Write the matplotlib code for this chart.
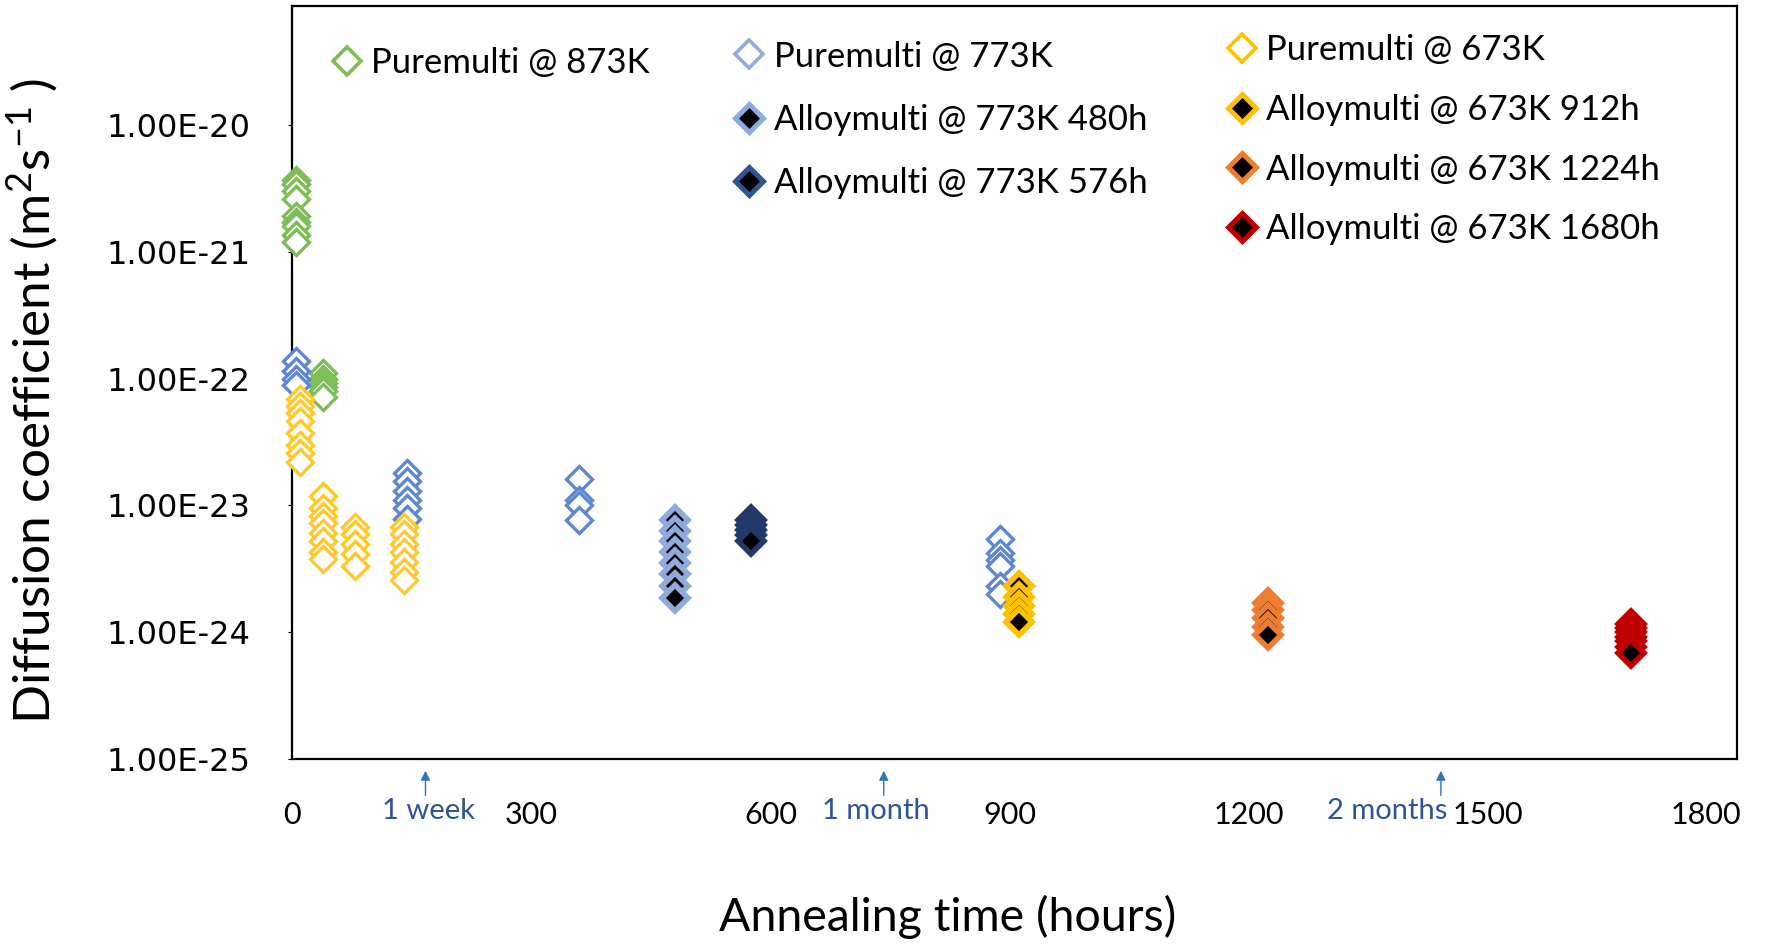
import matplotlib
matplotlib.use("Agg")
import matplotlib.pyplot as plt
import matplotlib.transforms as mtransforms
from matplotlib.lines import Line2D

# ---------------- data ----------------
t_pure873 = [4] * 9 + [38] * 6
D_pure873 = [3.7e-21, 3.4e-21, 3.0e-21, 2.6e-21, 1.9e-21, 1.7e-21, 1.6e-21, 1.35e-21, 1.2e-21,
             1.1e-22, 1.0e-22, 9.3e-23, 8.6e-23, 7.9e-23, 7.2e-23]

t_pure773 = [5] * 4 + [144] * 6 + [360] * 4 + [888] * 6
D_pure773 = [1.38e-22, 1.15e-22, 1.0e-22, 8.9e-23,
             1.8e-23, 1.55e-23, 1.3e-23, 1.1e-23, 9.5e-24, 7.8e-24,
             1.6e-23, 1.1e-23, 1.0e-23, 7.6e-24,
             5.4e-24, 4.2e-24, 3.7e-24, 3.3e-24, 2.3e-24, 2.0e-24]

t_pure673 = [10] * 8 + [38] * 8 + [78] * 5 + [140] * 7
D_pure673 = [6.9e-23, 6.1e-23, 5.3e-23, 4.6e-23, 3.7e-23, 3.0e-23, 2.6e-23, 2.2e-23,
             1.18e-23, 9.5e-24, 8.3e-24, 7.2e-24, 6.1e-24, 5.2e-24, 4.3e-24, 3.8e-24,
             6.8e-24, 5.9e-24, 5.0e-24, 4.1e-24, 3.3e-24,
             6.8e-24, 5.9e-24, 5.0e-24, 4.3e-24, 3.6e-24, 3.0e-24, 2.6e-24]

t_alloy480 = [480] * 8
D_alloy480 = [7.6e-24, 6.3e-24, 5.2e-24, 4.3e-24, 3.5e-24, 2.9e-24, 2.3e-24, 1.85e-24]

t_alloy576 = [576] * 5
D_alloy576 = [7.6e-24, 7.0e-24, 6.4e-24, 5.8e-24, 5.2e-24]

t_alloy912 = [912] * 5
D_alloy912 = [2.3e-24, 1.9e-24, 1.6e-24, 1.4e-24, 1.2e-24]

t_alloy1224 = [1224] * 5
D_alloy1224 = [1.7e-24, 1.5e-24, 1.3e-24, 1.1e-24, 9.5e-25]

t_alloy1680 = [1680] * 7
D_alloy1680 = [1.17e-24, 1.08e-24, 1.0e-24, 9.2e-25, 8.5e-25, 7.6e-25, 6.8e-25]

labels = ["Puremulti @ 873K", "Puremulti @ 773K", "Puremulti @ 673K",
          "Alloymulti @ 773K 480h", "Alloymulti @ 773K 576h",
          "Alloymulti @ 673K 912h", "Alloymulti @ 673K 1224h", "Alloymulti @ 673K 1680h"]

xtick_values = [0, 300, 600, 900, 1200, 1500, 1800]
xtick_labels = ["0", "300", "600", "900", "1200", "1500", "1800"]
ytick_values = [1e-25, 1e-24, 1e-23, 1e-22, 1e-21, 1e-20]
ytick_labels = ["1.00E-25", "1.00E-24", "1.00E-23", "1.00E-22", "1.00E-21", "1.00E-20"]

milestone_arrow_t = [167, 742, 1441]
milestone_text_t = [171, 732, 1374]
milestone_labels = ["1 week", "1 month", "2 months"]

# ---------------- style ----------------
plt.rcParams['font.family'] = ['Lato', 'DejaVu Sans']
plt.rcParams['mathtext.default'] = 'regular'

c873 = '#7DBD55'
c773 = '#5F87D1'
c673 = '#FFC82C'
c480 = '#8FAADC'
c576 = '#22396A'
c912 = '#FFC000'
c1224 = '#ED7D31'
c1680 = '#C00000'

fig = plt.figure(figsize=(17.72, 9.44), dpi=100)
ax = fig.add_axes([0.165, 0.196, 0.815, 0.798])

ms_open = 13.5
mew_open = 2.4
ms_alloy = 13.5
mew_alloy = 4.0

open_series = [(t_pure873, D_pure873, c873), (t_pure773, D_pure773, c773), (t_pure673, D_pure673, c673)]
for t, D, c in open_series:
    for ti, di in zip(t, D):
        ax.plot([ti], [di], ls='none', marker='D', ms=ms_open, mfc='white', mec=c, mew=mew_open,
                clip_on=False, zorder=3)

alloy_series = [(t_alloy480, D_alloy480, c480), (t_alloy576, D_alloy576, c576),
                (t_alloy912, D_alloy912, c912), (t_alloy1224, D_alloy1224, c1224),
                (t_alloy1680, D_alloy1680, c1680)]
for t, D, c in alloy_series:
    for ti, di in zip(t, D):
        ax.plot([ti], [di], ls='none', marker='D', ms=ms_alloy, mfc='black', mec=c, mew=mew_alloy,
                clip_on=False, zorder=4)

ax.set_yscale('log')
ax.set_xlim(0, 1812)
ax.set_ylim(1e-25, 10 ** -19.06)
ax.set_xticks(xtick_values)
ax.set_xticklabels(xtick_labels, fontsize=22)
ax.set_yticks(ytick_values)
ax.set_yticklabels(ytick_labels, fontsize=23, family='DejaVu Sans')
ax.minorticks_off()
ax.tick_params(axis='x', length=0, pad=30)
ax.tick_params(axis='y', length=3, pad=27)
for s in ax.spines.values():
    s.set_linewidth(1.6)
    s.set_color('black')

# last x label is pulled inside the chart area, as in the reference
last_lab = ax.get_xticklabels()[-1]
last_lab.set_transform(last_lab.get_transform() +
                       mtransforms.ScaledTranslation(-0.21, 0, fig.dpi_scale_trans))

# milestone arrows
for t in milestone_arrow_t:
    ax.annotate('', xy=(t, -0.012), xytext=(t, -0.052),
                xycoords=('data', 'axes fraction'), textcoords=('data', 'axes fraction'),
                arrowprops=dict(arrowstyle='-|>', color='#2E75B6', lw=1.0, mutation_scale=14),
                annotation_clip=False)
for t, lab in zip(milestone_text_t, milestone_labels):
    ax.text(t, -0.069, lab, transform=ax.get_xaxis_transform(), ha='center', va='center',
            fontsize=21, color='#2F5597')

# axis titles
fig.text(0.018, 0.575, 'Diffusion coefficient (m$^{2}$s$^{-1}$ )', rotation=90,
         ha='center', va='center', fontsize=37)
fig.text(0.535, 0.029, 'Annealing time (hours)', ha='center', va='center', fontsize=33.5)

# legends (three columns)
def open_handle(c):
    return Line2D([], [], ls='none', marker='D', ms=14, mfc='white', mec=c, mew=2.6)

def alloy_handle(c):
    return Line2D([], [], ls='none', marker='D', ms=14, mfc='black', mec=c, mew=3.6)

legend_kw = dict(frameon=False, loc='upper left', borderpad=0, borderaxespad=0,
                 handlelength=1.0, handletextpad=0.2, fontsize=25)

leg1 = fig.legend([open_handle(c873)], [labels[0]], bbox_to_anchor=(0.186, 0.950), **legend_kw)
leg2 = fig.legend([open_handle('#8FAADC'), alloy_handle(c480), alloy_handle('#2F5597')],
                  [labels[1], labels[3], labels[4]], bbox_to_anchor=(0.413, 0.957),
                  labelspacing=0.9, **legend_kw)
leg3 = fig.legend([open_handle(c912), alloy_handle(c912), alloy_handle(c1224), alloy_handle(c1680)],
                  [labels[2], labels[5], labels[6], labels[7]], bbox_to_anchor=(0.691, 0.964),
                  labelspacing=0.80, **legend_kw)

fig.savefig('out.png', dpi=100)
